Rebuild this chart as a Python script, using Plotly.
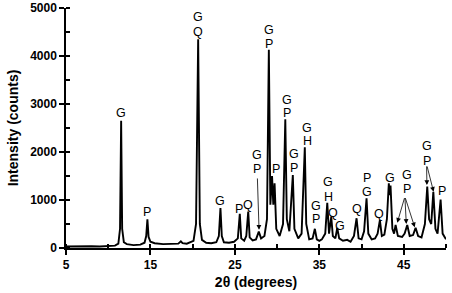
import plotly.graph_objects as go

# 2-theta (degrees) and intensity (counts)
two_theta = [5.0, 6.0, 7.0, 8.0, 9.0, 10.0, 10.8, 11.2, 11.4, 11.53, 11.65, 11.85, 12.2, 13.0, 13.8,
             14.3, 14.5, 14.64, 14.78, 15.0, 15.5, 16.5, 17.5, 18.3, 18.6, 18.8, 19.3, 19.8, 20.1,
             20.4, 20.65, 20.85, 21.1, 21.6, 22.2, 22.8, 23.1, 23.29, 23.45, 23.7, 24.3, 24.9,
             25.35, 25.58, 25.75, 26.1, 26.35, 26.58, 26.75, 27.1, 27.5, 27.83, 28.1, 28.5, 28.8,
             29.02, 29.2, 29.4, 29.55, 29.7, 29.9, 30.3, 30.7, 30.97, 31.15, 31.45, 31.86, 32.05,
             32.5, 32.9, 33.28, 33.45, 33.8, 34.2, 34.47, 34.7, 35.0, 35.3, 35.7, 35.94, 36.15,
             36.41, 36.6, 36.9, 37.12, 37.35, 37.8, 38.3, 38.7, 39.1, 39.41, 39.65, 40.0, 40.3,
             40.59, 40.8, 41.2, 41.6, 41.9, 42.17, 42.4, 42.7, 43.0, 43.23, 43.33, 43.43, 43.65,
             43.85, 44.03, 44.3, 44.8, 45.1, 45.41, 45.7, 46.1, 46.4, 46.7, 47.1, 47.5, 47.78,
             48.0, 48.25, 48.5, 48.75, 49.0, 49.36, 49.6, 50.0]
intensity = [30, 35, 30, 35, 30, 40, 50, 90, 400, 2650, 400, 120, 80, 60, 70,
             110, 250, 600, 230, 130, 100, 80, 85, 90, 140, 100, 90, 120, 150,
             500, 4350, 500, 170, 110, 100, 120, 250, 830, 250, 120, 110, 130,
             200, 710, 200, 150, 250, 760, 220, 160, 180, 340, 200, 250, 600,
             4130, 900, 1500, 900, 1350, 400, 250, 500, 2680, 600, 350, 1520, 400,
             200, 300, 2100, 500, 180, 200, 400, 180, 150, 180, 300, 940, 300,
             650, 250, 200, 420, 200, 150, 170, 130, 250, 620, 200, 180, 350,
             1035, 300, 180, 200, 300, 580, 250, 280, 600, 1350, 1100, 1300, 400,
             300, 480, 250, 230, 300, 480, 250, 270, 420, 250, 220, 500, 1280,
             600, 500, 1170, 400, 300, 1010, 300, 180]

# phase labels: (2theta, intensity, letter)
label_x = [11.56, 14.64, 20.63, 20.63, 23.21, 25.46, 26.53, 27.64, 27.64, 29.02, 29.02, 29.81,
           31.2, 31.2, 31.98, 31.98, 33.57, 33.57, 34.55, 34.55, 36.05, 36.05, 36.65, 37.39,
           39.41, 40.59, 40.59, 42.05, 43.32, 45.33, 45.33, 47.78, 47.78, 49.48]
label_y = [2812, 756, 4823, 4510, 985, 812, 896, 1938, 1640, 4542, 4250, 1640,
           3083, 2812, 1958, 1667, 2506, 2229, 881, 604, 1381, 1069, 735, 458,
           806, 1452, 1173, 708, 1465, 1521, 1223, 2131, 1819, 1194]
label_text = ["G", "P", "G", "Q", "G", "P", "Q", "G", "P", "G", "P", "P",
              "G", "P", "G", "P", "G", "H", "G", "P", "G", "H", "Q", "G",
              "Q", "P", "G", "Q", "G", "G", "P", "G", "P", "P"]

# arrows: tail (2theta, intensity) -> head (2theta, intensity)
arrow_tail_x = [27.66, 45.13, 45.13, 45.13, 47.70, 47.72]
arrow_tail_y = [1480, 1070, 1070, 1070, 1730, 1730]
arrow_head_x = [27.86, 44.23, 45.30, 46.30, 47.74, 48.53]
arrow_head_y = [380, 527, 500, 430, 1310, 1170]

FONT = "Liberation Sans, Arial, sans-serif"

fig = go.Figure()
fig.add_trace(go.Scatter(x=two_theta, y=intensity, mode="lines",
                         line=dict(color="black", width=1.9), showlegend=False,
                         hoverinfo="skip"))

for lx, ly, lt in zip(label_x, label_y, label_text):
    fig.add_annotation(x=lx, y=ly, text=lt, showarrow=False, xref="x", yref="y",
                       font=dict(family=FONT, size=12.5, color="black"),
                       xanchor="center", yanchor="middle")

for tx, ty, hx, hy in zip(arrow_tail_x, arrow_tail_y, arrow_head_x, arrow_head_y):
    fig.add_annotation(x=hx, y=hy, ax=tx, ay=ty, xref="x", yref="y", axref="x", ayref="y",
                       text="", showarrow=True, arrowhead=2, arrowsize=1.2,
                       arrowwidth=0.8, arrowcolor="black")

fig.update_layout(
    width=452, height=293,
    margin=dict(l=66, r=6, t=8, b=45, autoexpand=False),
    paper_bgcolor="white", plot_bgcolor="white",
    font=dict(family=FONT, color="black"),
)
fig.update_xaxes(
    range=[5, 50], tick0=5, dtick=10, showgrid=False, zeroline=False, automargin=False,
    showline=True, linecolor="black", linewidth=1.5,
    ticks="outside", ticklen=5, tickwidth=1.5, tickcolor="black",
    tickfont=dict(family=FONT, size=12, color="black", weight="bold"),
    minor=dict(dtick=5, tick0=5, ticks="inside", ticklen=4, tickwidth=1.5, tickcolor="black", showgrid=False),
    title=dict(text="2θ (degrees)", font=dict(family=FONT, size=14, color="black", weight="bold"), standoff=6),
)
fig.update_yaxes(
    range=[0, 5000], dtick=1000, showgrid=False, zeroline=False, automargin=False,
    showline=True, linecolor="black", linewidth=1.5,
    ticks="outside", ticklen=5, tickwidth=1.5, tickcolor="black",
    tickfont=dict(family=FONT, size=12, color="black", weight="bold"),
    minor=dict(dtick=500, ticks="inside", ticklen=4, tickwidth=1.5, tickcolor="black", showgrid=False),
    title=dict(text="Intensity (counts)", font=dict(family=FONT, size=14, color="black", weight="bold"), standoff=8),
)

fig.write_html("out.html", config={"displayModeBar": False},
               post_script="document.body.style.margin='0';")
